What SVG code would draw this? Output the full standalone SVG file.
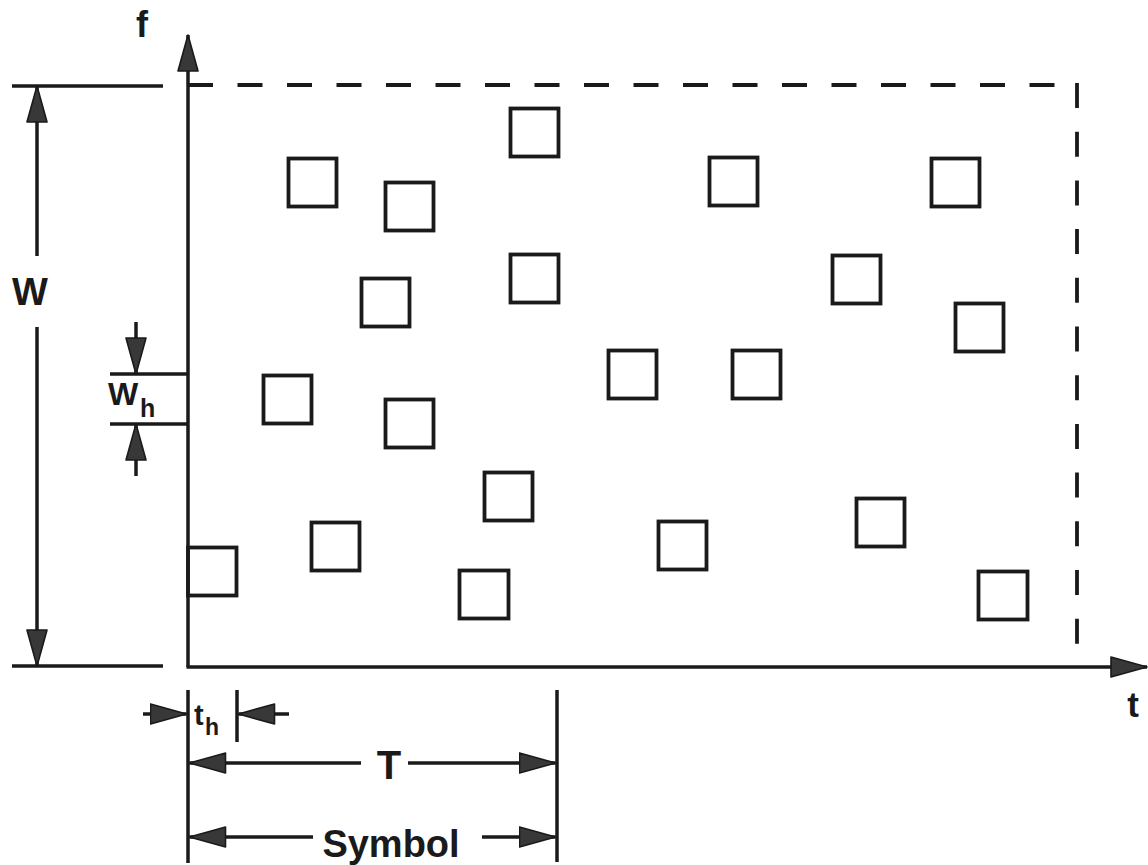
<svg xmlns="http://www.w3.org/2000/svg" width="1148" height="865" viewBox="0 0 1148 865">
<style>
.ln{stroke:#1a1a1a;stroke-width:3.5;fill:none}
.dash{stroke:#1a1a1a;stroke-width:3.8;fill:none;stroke-dasharray:25 24.5}
.sq{stroke:#1a1a1a;stroke-width:3.8;fill:none}
.lbl{font-family:"Liberation Sans",Arial,sans-serif;font-weight:bold;fill:#1a1a1a}
.ar{marker-end:url(#ah)}
</style>
<defs>
<marker id="ah" viewBox="0 0 38 22" markerWidth="38" markerHeight="22" markerUnits="userSpaceOnUse" refX="37" refY="11" orient="auto">
<path d="M1,1 L37,11 L1,21 Z" fill="#383838" stroke="#1a1a1a" stroke-width="1.6" stroke-linejoin="round"/>
</marker>
</defs>
<g id="axes">
<line class="ln ar" x1="188" y1="667" x2="188" y2="35"/>
<line class="ln ar" x1="186.5" y1="667" x2="1147" y2="667"/>
<line class="dash" x1="188" y1="85" x2="1055" y2="85"/>
<line class="dash" x1="1077" y1="83" x2="1077" y2="645" style="stroke-dasharray:25 23.7"/>
<line class="ln" x1="12" y1="86" x2="163" y2="86"/>
<line class="ln" x1="12" y1="666" x2="163" y2="666"/>
</g>
<g id="squares">
<rect class="sq" x="288.5" y="158.5" width="48" height="48"/>
<rect class="sq" x="385.5" y="182.5" width="48" height="48"/>
<rect class="sq" x="510.5" y="108.5" width="48" height="48"/>
<rect class="sq" x="709.5" y="157.5" width="48" height="48"/>
<rect class="sq" x="931.5" y="158.5" width="48" height="48"/>
<rect class="sq" x="510.5" y="254.5" width="48" height="48"/>
<rect class="sq" x="361.5" y="278.5" width="48" height="48"/>
<rect class="sq" x="832.5" y="255.5" width="48" height="48"/>
<rect class="sq" x="955.5" y="303.5" width="48" height="48"/>
<rect class="sq" x="608.5" y="350.5" width="48" height="48"/>
<rect class="sq" x="732.5" y="350.5" width="48" height="48"/>
<rect class="sq" x="263.5" y="375.5" width="48" height="48"/>
<rect class="sq" x="385.5" y="399.5" width="48" height="48"/>
<rect class="sq" x="484.5" y="472.5" width="48" height="48"/>
<rect class="sq" x="311.5" y="522.5" width="48" height="48"/>
<rect class="sq" x="658.5" y="521.5" width="48" height="48"/>
<rect class="sq" x="856.5" y="498.5" width="48" height="48"/>
<rect class="sq" x="188" y="547.5" width="48.5" height="48"/>
<rect class="sq" x="459.5" y="570.5" width="49" height="48"/>
<rect class="sq" x="978.5" y="571.5" width="49" height="48"/>
</g>
<g id="dim-W">
<line class="ln ar" x1="37" y1="256" x2="37" y2="86"/>
<line class="ln ar" x1="37" y1="327" x2="37" y2="666"/>
<text class="lbl" x="30" y="305" font-size="38" text-anchor="middle">W</text>
</g>
<g id="dim-Wh">
<line class="ln" x1="110" y1="374" x2="188" y2="374"/>
<line class="ln" x1="110" y1="424" x2="188" y2="424"/>
<line class="ln ar" x1="136" y1="322" x2="136" y2="374"/>
<line class="ln ar" x1="136" y1="476" x2="136" y2="424"/>
<text class="lbl" x="108" y="405" font-size="32">W</text>
<text class="lbl" x="140" y="417" font-size="25">h</text>
</g>
<g id="dim-th">
<line class="ln" x1="188" y1="690" x2="188" y2="863"/>
<line class="ln" x1="237" y1="690" x2="237" y2="742"/>
<line class="ln ar" x1="143" y1="714" x2="186.5" y2="714"/>
<line class="ln ar" x1="289" y1="714" x2="238.5" y2="714"/>
<text class="lbl" x="194" y="725" font-size="29">t</text>
<text class="lbl" x="205" y="735" font-size="23">h</text>
</g>
<g id="dim-T">
<line class="ln" x1="557" y1="690" x2="557" y2="862"/>
<line class="ln ar" x1="361" y1="763" x2="189.5" y2="763"/>
<line class="ln ar" x1="408" y1="763" x2="555.5" y2="763"/>
<text class="lbl" x="389" y="779" font-size="40" text-anchor="middle">T</text>
</g>
<g id="dim-symbol">
<line class="ln ar" x1="313" y1="837" x2="189.5" y2="837"/>
<line class="ln ar" x1="482" y1="837" x2="555.5" y2="837"/>
<text class="lbl" x="391" y="857" font-size="38" text-anchor="middle">Symbol</text>
</g>
<g id="axis-labels">
<text class="lbl" x="142" y="37" font-size="36" text-anchor="middle">f</text>
<text class="lbl" x="1133" y="717" font-size="35" text-anchor="middle">t</text>
</g>
</svg>
